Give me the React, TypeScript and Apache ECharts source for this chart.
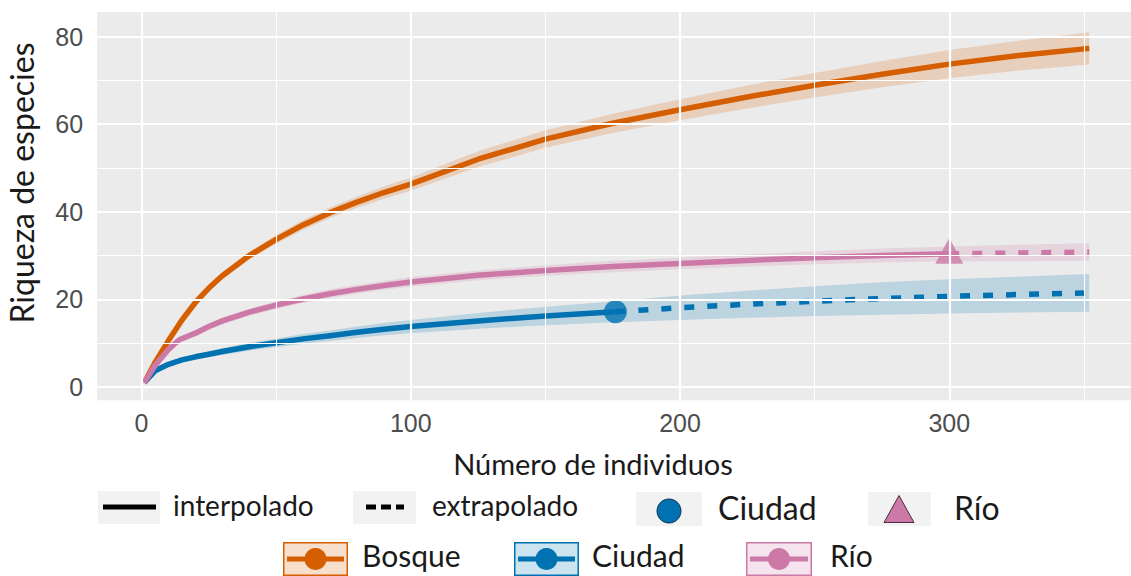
import { useEffect, useRef } from "react";
import * as echarts from "echarts";

// Okabe-Ito colours used by the three assemblages
const ORANGE = "#D55E00";
const BLUE = "#0072B2";
const PINK = "#CC79A7";

// Axis ticks and gridlines
const xTicks = [0, 100, 200, 300];
const xMinor = [50, 150, 250, 350];
const yTicks = [0, 20, 40, 60, 80];
const yMinor = [10, 30, 50, 70];

// Bosque (observed sample lies beyond the plotted range, so all interpolated)
const bosqueX = [1, 5, 10, 15, 20, 25, 30, 40, 50, 60, 70, 80, 90, 100, 125, 150, 175, 200, 225, 250, 275, 300, 325, 352];
const bosqueY = [1, 5.6, 10.6, 15.3, 19.3, 22.6, 25.4, 30.0, 33.7, 37.0, 39.8, 42.2, 44.4, 46.3, 52.0, 56.6, 60.2, 63.3, 66.2, 68.9, 71.4, 73.7, 75.6, 77.3];
const bosqueLo = [1, 5.3, 10.1, 14.7, 18.6, 21.8, 24.6, 29.1, 32.7, 35.9, 38.6, 40.9, 43.0, 44.8, 50.2, 54.6, 58.0, 60.9, 63.6, 66.1, 68.4, 70.5, 72.2, 73.6];
const bosqueHi = [1, 5.9, 11.1, 15.9, 20.0, 23.4, 26.2, 30.9, 34.7, 38.1, 41.0, 43.5, 45.8, 47.8, 53.8, 58.6, 62.4, 65.7, 68.8, 71.7, 74.4, 76.9, 79.0, 81.0];
const bosqueObs: number | null = null;

// Ciudad
const ciudadX = [1, 5, 10, 15, 20, 25, 30, 40, 50, 60, 70, 80, 90, 100, 125, 150, 176, 200, 225, 250, 275, 300, 325, 352];
const ciudadY = [1, 3.7, 5.2, 6.2, 6.9, 7.5, 8.1, 9.2, 10.1, 11.0, 11.7, 12.5, 13.2, 13.8, 15.1, 16.2, 17.2, 18.1, 18.9, 19.6, 20.2, 20.7, 21.1, 21.5];
const ciudadLo = [1, 3.4, 4.7, 5.6, 6.2, 6.8, 7.3, 8.3, 9.1, 9.9, 10.5, 11.2, 11.8, 12.3, 13.3, 14.1, 14.8, 15.3, 15.8, 16.2, 16.5, 16.8, 17.0, 17.2];
const ciudadHi = [1, 4.0, 5.7, 6.8, 7.6, 8.2, 8.9, 10.1, 11.1, 12.1, 12.9, 13.8, 14.6, 15.3, 16.9, 18.3, 19.6, 20.9, 22.0, 23.0, 23.9, 24.6, 25.2, 25.8];
const ciudadObs = 176;

// Río
const rioX = [1, 5, 10, 14, 20, 25, 30, 40, 50, 60, 70, 80, 90, 100, 125, 150, 175, 200, 225, 250, 275, 300, 325, 352];
const rioY = [1, 4.9, 8.6, 10.8, 12.3, 13.8, 15.1, 17.1, 18.7, 20.1, 21.3, 22.3, 23.2, 24.0, 25.5, 26.6, 27.5, 28.2, 28.9, 29.5, 30.0, 30.4, 30.6, 30.8];
const rioLo = [1, 4.6, 8.1, 10.2, 11.6, 13.1, 14.3, 16.3, 17.8, 19.2, 20.3, 21.3, 22.2, 22.9, 24.4, 25.4, 26.2, 26.9, 27.5, 28.0, 28.4, 28.7, 28.7, 28.8];
const rioHi = [1, 5.2, 9.1, 11.4, 13.0, 14.5, 15.9, 17.9, 19.6, 21.0, 22.3, 23.3, 24.2, 25.1, 26.6, 27.8, 28.8, 29.5, 30.3, 31.0, 31.6, 32.1, 32.5, 32.8];
const rioObs = 300;

const TITLE_FONT = "Lato";
const TICK_FONT = "Liberation Sans";

function hexToRgba(hex: string, a: number) {
  const n = parseInt(hex.slice(1), 16);
  return `rgba(${(n >> 16) & 255},${(n >> 8) & 255},${n & 255},${a})`;
}

function bandSeries(xs: number[], lo: number[], hi: number[], color: string) {
  return {
    type: "custom",
    silent: true,
    z: 2,
    data: [[xs[0], lo[0]]],
    renderItem: (_p: any, api: any) => {
      const pts: number[][] = [];
      xs.forEach((x, i) => pts.push(api.coord([x, hi[i]])));
      for (let i = xs.length - 1; i >= 0; i--) pts.push(api.coord([xs[i], lo[i]]));
      return {
        type: "polygon",
        shape: { points: pts },
        style: { fill: hexToRgba(color, 0.2), stroke: "none" },
      };
    },
  };
}

function lineSeries(xs: number[], ys: number[], color: string, dashed: boolean, keep: (x: number) => boolean) {
  const data: number[][] = [];
  xs.forEach((x, i) => {
    if (keep(x)) data.push([x, ys[i]]);
  });
  return {
    type: "line",
    data,
    showSymbol: false,
    smooth: false,
    silent: true,
    z: 3,
    lineStyle: { color, width: 5.5, type: dashed ? [10, 13] : "solid", cap: "butt", join: "round" },
  };
}

function curveSeries(xs: number[], ys: number[], lo: number[], hi: number[], color: string, obs: number | null) {
  const out: any[] = [bandSeries(xs, lo, hi, color)];
  if (obs === null) {
    out.push(lineSeries(xs, ys, color, false, () => true));
  } else {
    out.push(lineSeries(xs, ys, color, false, (x) => x <= obs));
    out.push(lineSeries(xs, ys, color, true, (x) => x >= obs));
  }
  return out;
}

function pointAt(xs: number[], ys: number[], obs: number) {
  const i = xs.indexOf(obs);
  return [xs[i], ys[i]];
}

// Legend drawing helpers
const legendText = (text: string, x: number, y: number, size: number) => ({
  type: "text",
  x,
  y,
  style: {
    text,
    fontFamily: TITLE_FONT,
    fontSize: size,
    fill: "#1A1A1A",
    textAlign: "left",
    textVerticalAlign: "middle",
  },
});

const keyBg = (x: number, y: number, w: number, h: number) => ({
  type: "rect",
  shape: { x, y, width: w, height: h },
  style: { fill: "#F2F2F2" },
});

const ribbonKey = (x: number, y: number, w: number, h: number, color: string) => ({
  type: "group",
  children: [
    {
      type: "rect",
      shape: { x: x + 0.75, y: y + 0.75, width: w - 1.5, height: h - 1.5 },
      style: { fill: hexToRgba(color, 0.2), stroke: color, lineWidth: 1.5 },
    },
    {
      type: "line",
      shape: { x1: x + 4, y1: y + h / 2, x2: x + w - 4, y2: y + h / 2 },
      style: { stroke: color, lineWidth: 5 },
    },
    {
      type: "circle",
      shape: { cx: x + w / 2, cy: y + h / 2, r: 11 },
      style: { fill: color },
    },
  ],
});

export default function App() {
  const ref = useRef<HTMLDivElement>(null);

  useEffect(() => {
    if (!ref.current) return;
    const chart = echarts.init(ref.current, undefined, { renderer: "svg" });

    const gridLine = (axis: "xAxis" | "yAxis", v: number, width: number) => ({
      [axis]: v,
      lineStyle: { color: "#FFFFFF", width, type: "solid" },
    });

    const ciudadPt = pointAt(ciudadX, ciudadY, ciudadObs);
    const rioPt = pointAt(rioX, rioY, rioObs);

    const row1 = 507;
    const row2 = 555;

    const option: any = {
      animation: false,
      backgroundColor: "#FFFFFF",
      grid: {
        left: 97.15,
        top: 12,
        width: 1036.8,
        height: 388.2,
        show: true,
        backgroundColor: "#EBEBEB",
        borderWidth: 0,
      },
      xAxis: {
        type: "value",
        min: -16.5,
        max: 367.5,
        axisLine: { show: false },
        axisTick: {
          show: true,
          length: 6,
          customValues: xTicks,
          lineStyle: { color: "#4D4D4D", width: 2 },
        },
        axisLabel: {
          customValues: xTicks,
          fontSize: 25,
          fontFamily: TICK_FONT,
          color: "#4D4D4D",
          margin: 10,
        },
        splitLine: { show: false },
      },
      yAxis: {
        type: "value",
        min: -3,
        max: 85.6,
        axisLine: { show: false },
        axisTick: {
          show: true,
          length: 6,
          customValues: yTicks,
          lineStyle: { color: "#4D4D4D", width: 2 },
        },
        axisLabel: {
          customValues: yTicks,
          fontSize: 25,
          fontFamily: TICK_FONT,
          color: "#4D4D4D",
          margin: 14,
        },
        splitLine: { show: false },
      },
      series: [
        {
          type: "line",
          data: [],
          silent: true,
          z: 1,
          markLine: {
            silent: true,
            symbol: ["none", "none"],
            label: { show: false },
            animation: false,
            data: [
              ...xMinor.map((v) => gridLine("xAxis", v, 1.1)),
              ...yMinor.map((v) => gridLine("yAxis", v, 1.1)),
              ...xTicks.map((v) => gridLine("xAxis", v, 2.2)),
              ...yTicks.map((v) => gridLine("yAxis", v, 2.2)),
            ],
          },
        },
        ...curveSeries(bosqueX, bosqueY, bosqueLo, bosqueHi, ORANGE, bosqueObs),
        ...curveSeries(ciudadX, ciudadY, ciudadLo, ciudadHi, BLUE, ciudadObs),
        ...curveSeries(rioX, rioY, rioLo, rioHi, PINK, rioObs),
        {
          type: "scatter",
          data: [ciudadPt],
          symbol: "circle",
          symbolSize: 23,
          itemStyle: { color: BLUE },
          silent: true,
          z: 4,
        },
        {
          type: "scatter",
          data: [rioPt],
          symbol: "triangle",
          symbolSize: [28, 26],
          symbolOffset: [0, -3],
          itemStyle: { color: PINK },
          silent: true,
          z: 4,
        },
      ],
      graphic: [
        // axis titles
        {
          type: "text",
          x: 21,
          y: 183,
          rotation: Math.PI / 2,
          style: {
            text: "Riqueza de especies",
            fontFamily: TITLE_FONT,
            fontSize: 32,
            fill: "#1A1A1A",
            textAlign: "center",
            textVerticalAlign: "middle",
          },
        },
        {
          type: "text",
          x: 593,
          y: 463,
          style: {
            text: "Número de individuos",
            fontFamily: TITLE_FONT,
            fontSize: 29,
            fill: "#1A1A1A",
            textAlign: "center",
            textVerticalAlign: "middle",
          },
        },
        // line-type legend
        keyBg(98, 491, 62, 33),
        {
          type: "line",
          shape: { x1: 103, y1: row1, x2: 156, y2: row1 },
          style: { stroke: "#000000", lineWidth: 5 },
        },
        legendText("interpolado", 173, row1 - 2, 28),
        keyBg(353, 491, 63, 33),
        {
          type: "line",
          shape: { x1: 366, y1: row1, x2: 404, y2: row1 },
          style: { stroke: "#000000", lineWidth: 5, lineDash: [10, 5] },
        },
        legendText("extrapolado", 432, row1 - 2, 28),
        // observed-point legend
        keyBg(636, 492, 66, 34),
        {
          type: "circle",
          shape: { cx: 669, cy: 511, r: 12 },
          style: { fill: BLUE, stroke: "#12324d", lineWidth: 1 },
        },
        legendText("Ciudad", 718, row1, 32),
        keyBg(868, 492, 63, 34),
        {
          type: "polygon",
          shape: { points: [[899, 495.5], [884, 522.5], [914, 522.5]] },
          style: { fill: PINK, stroke: "#4a2a3e", lineWidth: 1 },
        },
        legendText("Río", 954, row1, 32),
        // assemblage legend
        ribbonKey(283, 542, 65, 34, ORANGE),
        legendText("Bosque", 362, row2, 30),
        ribbonKey(514, 542, 65, 34, BLUE),
        legendText("Ciudad", 592, row2, 30),
        ribbonKey(746, 542, 66, 34, PINK),
        legendText("Río", 830, row2, 30),
      ],
    };

    chart.setOption(option);
    return () => chart.dispose();
  }, []);

  return (
    <div
      ref={ref}
      style={{ position: "fixed", left: 0, top: 0, width: 1131, height: 576, background: "#FFFFFF" }}
    />
  );
}
